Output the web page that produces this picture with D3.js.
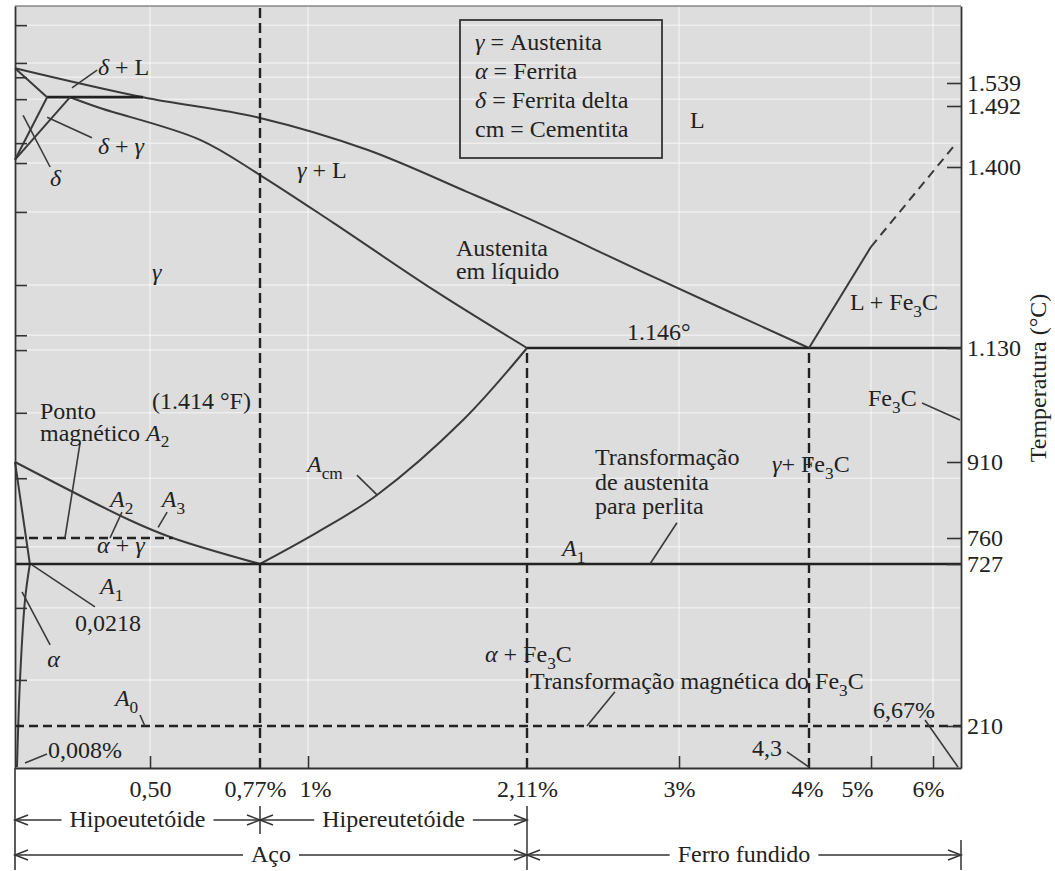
<!DOCTYPE html>
<html><head><meta charset="utf-8">
<script src="https://cdn.jsdelivr.net/npm/d3@7"></script>
<style>
body{margin:0;background:#fff}
svg{display:block}
</style></head><body>
<svg id="chart" width="1055" height="871"></svg>
<script>
// ---------------- DATA (carbon %, temperature °C) ----------------
const liquidus        = [[0,1570],[0.474,1510],[0.77,1474],[1.30,1426],[1.806,1363],[2.11,1324],[2.85,1236],[4.3,1130]];
const solidusGamma    = [[0.204,1510],[0.315,1489],[0.623,1441],[0.77,1388],[1.127,1317],[1.634,1217],[2.11,1130]];
const deltaSolidus    = [[0,1570],[0.119,1510]];
const peritectic      = [[0.119,1510],[0.474,1510]];
const deltaSolvus     = [[0,1411],[0.119,1510]];
const gammaDelta      = [[0,1411],[0.204,1510]];
const eutectic        = [[2.11,1130],[6.67,1130]];
const fe3cLiquidus    = [[4.3,1130],[5.0,1281]];
const fe3cLiquidusExt = [[5.0,1281],[6.48,1430]];
const acmLine         = [[0.77,727],[1.051,772],[1.35,845],[1.786,991],[2.11,1130]];
const a3Line          = [[0,910],[0.426,795],[0.556,760],[0.77,727]];
const alphaGamma      = [[0,910],[0.055,727]];
const alphaSolvus     = [[0.055,727],[0.037,612],[0.0185,357],[0.0074,78]];
const a2Line          = [[0,760],[0.556,760]];
const a1Line          = [[0,727],[6.67,727]];
const a0Line          = [[0,210],[6.67,210]];
const verticalCarbon  = [0.77, 2.11, 4.3];
const verticalTop     = [1700, 1130, 1130];

const leaders = [
  [[0.211,1529],[0.304,1566]],   // δ+L
  [[0.119,1475],[0.285,1444]],   // δ+γ
  [[0.030,1478],[0.130,1400]],   // δ
  [[0.241,947],[0.185,760]],     // ponto magnético
  [[0.396,811],[0.352,760]],     // A2
  [[0.542,811],[0.520,781]],     // A3
  [[1.248,884],[1.35,845]],      // Acm
  [[0.063,724],[0.296,590]],     // 0,0218
  [[0.026,638],[0.130,469]],     // α
  [[0.463,245],[0.481,210]],     // A0
  [[0.037,91],[0.1185,120]],     // 0,008%
  [[2.988,790],[2.83,727]],      // perlita
  [[2.625,319],[2.461,210]],     // magnética Fe3C
  [[5.823,1024],[6.646,991]],    // Fe3C
  [[5.871,229],[6.598,78]],      // 6,67%
  [[3.857,127],[4.3,78]]         // 4,3
];

const labelText = ["*δ* + L","*δ* + *γ*","*δ*","*γ*","*γ* + L","Austenita","em líquido","L","1.146°",
  "L + Fe_3C","Fe_3C","*γ*+ Fe_3C","Transformação","de austenita","para perlita","*A*_1",
  "*α* + Fe_3C","Transformação magnética do Fe_3C","6,67%","4,3","0,008%","*A*_0","*α*","0,0218",
  "*A*_1","*α* + *γ*","*A*_2","*A*_3","Ponto","magnético *A*_2","(1.414 °F)","*A*_{cm}"];
const labelCarbon = [0.307,0.307,0.130,0.505,0.947,1.75,1.75,3.087,2.695,
  4.763,4.966,3.738,2.508,2.508,2.508,2.315,
  1.897,2.128,5.032,3.579,0.122,0.370,0.119,0.222,
  0.315,0.304,0.352,0.529,0.0926,0.0926,0.505,0.995];
const labelTemp = [1556,1420,1372,1231,1384,1267,1233,1459,1142,
  1187,1018,890,904,855,808,737,
  414,328,236,114,107,274,398,513,
  631,741,821,821,993,951,1012,890];

const legendItems = ["*γ* = Austenita","*α* = Ferrita","*δ* = Ferrita delta","cm = Cementita"];

const xTickValues = [0.5,0.77,1,2.11,3,4,5,6];
const xTickLabels = ["0,50","0,77%","1%","2,11%","3%","4%","5%","6%"];
const xTickMarks  = [0.5,1,3,5,6];
const rightTicks  = [210,727,760,910,1130,1400,1492,1539];
const leftTicks   = [1660,1581,1551,1506,1436,1406,1333,1224,1149,1126,1005,878,749,587,357];

const spans = [
  {from:0, to:0.77, row:0, text:"Hipoeutetóide"},
  {from:0.77, to:2.11, row:0, text:"Hipereutetóide"},
  {from:0, to:2.11, row:1, text:"Aço"},
  {from:2.11, to:6.67, row:1, text:"Ferro fundido"}
];

// ---------------- SCALES ----------------
const x = d3.scaleLinear()
  .domain([0,0.5,0.77,1,2.11,3,4,4.3,5,6,6.67])
  .range([15,150,260,308,527,679,805,809,871,933,961]);
const y = d3.scaleLinear()
  .domain([75,210,727,760,910,1130,1400,1492,1539,1700])
  .range([768,726,564,538,462,348,167,106,83,6]);

const FONT = "'Liberation Serif', 'Times New Roman', Times, serif";
const FS = 24;
const ink = "#3a3a3a";
const svg = d3.select("#chart");

// background
svg.append("rect").attr("x",x(0)).attr("y",y(1700)).attr("width",x(6.67)-x(0)).attr("height",y(75)-y(1700)).attr("fill","#dddddd");

// faint white grid (scan)
svg.append("g").selectAll("line").data(leftTicks).join("line")
  .attr("x1",x(0)).attr("x2",x(6.67)).attr("y1",d=>y(d)).attr("y2",d=>y(d))
  .attr("stroke","#fff").attr("stroke-opacity",0.5).attr("stroke-width",1.5);
svg.append("g").selectAll("line").data(xTickMarks).join("line")
  .attr("x1",d=>x(d)).attr("x2",d=>x(d)).attr("y1",y(1700)).attr("y2",y(75))
  .attr("stroke","#fff").attr("stroke-opacity",0.5).attr("stroke-width",1.5);

const line = d3.line().x(d=>x(d[0])).y(d=>y(d[1]));
const curve = d3.line().x(d=>x(d[0])).y(d=>y(d[1])).curve(d3.curveCatmullRom.alpha(0.5));

function drawPath(data, gen, opts={}){
  svg.append("path").datum(data).attr("d",gen).attr("fill","none")
    .attr("stroke",opts.color||ink).attr("stroke-width",opts.w||2)
    .attr("stroke-dasharray",opts.dash||null);
}
// phase boundaries
drawPath(liquidus, curve);
drawPath(solidusGamma, curve);
drawPath(deltaSolidus, line);
drawPath(peritectic, line, {w:2.8, color:"#222"});
drawPath(deltaSolvus, line);
drawPath(gammaDelta, line);
drawPath(eutectic, line, {w:2.4, color:"#222"});
drawPath(fe3cLiquidus, line);
drawPath(fe3cLiquidusExt, line, {dash:"9,6"});
drawPath(acmLine, curve);
drawPath(a3Line, curve);
drawPath(alphaGamma, curve);
drawPath(alphaSolvus, curve);
drawPath(a2Line, line, {w:2.4, dash:"9,5", color:"#222"});
drawPath(a1Line, line, {w:2.4, color:"#222"});
drawPath(a0Line, line, {w:2.4, dash:"9,5", color:"#222"});
verticalCarbon.forEach((c,i)=>drawPath([[c,75],[c,verticalTop[i]]], line, {w:2.4, dash:"10,5", color:"#222"}));
leaders.forEach(l=>drawPath(l, line, {w:1.6}));

// axes
const ptFormat = d3.formatLocale({decimal:",",thousands:".",grouping:[3],currency:["",""]}).format(",");
const xTickDx = [0,-5,7,0,0,2,-14,-5];
const gR = svg.append("g").attr("transform",`translate(${x(6.67)},0)`)
  .call(d3.axisRight(y).tickValues(rightTicks).tickFormat(ptFormat).tickSizeInner(-14).tickSizeOuter(0).tickPadding(6));
const gL = svg.append("g").attr("transform",`translate(${x(0)},0)`)
  .call(d3.axisLeft(y).tickValues(leftTicks).tickFormat("").tickSizeInner(-12).tickSizeOuter(0));
const gB = svg.append("g").attr("transform",`translate(0,${y(75)})`)
  .call(d3.axisBottom(x).tickValues(xTickValues).tickFormat((d,i)=>xTickLabels[i]).tickSizeInner(-12).tickSizeOuter(0).tickPadding(12));
[gR,gL,gB].forEach(g=>{
  g.attr("font-family",null).attr("font-size",null);
  g.selectAll("text").attr("font-size",FS).attr("fill","#222");
  g.select(".domain").attr("stroke","#333").attr("stroke-width",1.8);
  g.selectAll(".tick line").attr("stroke","#333").attr("stroke-width",1.6);
});
gB.selectAll(".tick text").attr("dx",(d,i)=>xTickDx[i]);
gB.selectAll(".tick").filter(d=>!xTickMarks.includes(d)).select("line").remove();
// top border
svg.append("line").attr("x1",x(0)).attr("x2",x(6.67)).attr("y1",y(1700)).attr("y2",y(1700)).attr("stroke","#555").attr("stroke-width",1.2);
// left border extension below the plot
svg.append("line").attr("x1",x(0)).attr("x2",x(0)).attr("y1",y(75)).attr("y2",870).attr("stroke","#333").attr("stroke-width",1.6);

// rich text
function parse(s){
  const out=[]; let buf="", it=false;
  for(let i=0;i<s.length;i++){
    const c=s[i];
    if(c==="*"){ if(buf) out.push({text:buf,italic:it}); buf=""; it=!it; }
    else if(c==="_"){
      if(buf) out.push({text:buf,italic:it}); buf="";
      let sub;
      if(s[i+1]==="{"){ const j=s.indexOf("}",i); sub=s.slice(i+2,j); i=j; }
      else { sub=s[i+1]; i++; }
      out.push({text:sub,italic:false,sub:true});
    } else buf+=c;
  }
  if(buf) out.push({text:buf,italic:it});
  return out;
}
function rich(g, str, px, py, size, anchor){
  const t = g.append("text").attr("x",px).attr("y",py).attr("font-size",size).attr("text-anchor",anchor||"start");
  let shift=0;
  parse(str).forEach(s=>{
    const ts=t.append("tspan").text(s.text);
    if(s.italic) ts.attr("font-style","italic");
    if(s.sub){ ts.attr("font-size",size*0.72); const d=size*0.28; ts.attr("dy",d-shift); shift=d; }
    else if(shift){ ts.attr("dy",-shift); shift=0; }
  });
  return t;
}
const gT = svg.append("g");
labelText.forEach((s,i)=>rich(gT, s, x(labelCarbon[i]), y(labelTemp[i]), FS));

// legend
const lg = svg.append("g").attr("transform","translate(460,20)");
lg.append("rect").attr("width",202).attr("height",138).attr("fill","none").attr("stroke","#333").attr("stroke-width",1.8);
legendItems.forEach((s,i)=>rich(lg, s, 15, 30+i*29, FS));

// axis title
svg.append("text").attr("transform","translate(1046,378) rotate(-90)").attr("text-anchor","middle")
  .attr("font-size",FS).text("Temperatura (°C)");

// bottom spans
const rowY=[820,855];
const gS = svg.append("g");
function arrowHead(x0, yy, dir){
  gS.append("path").attr("d",`M${x0+dir*13},${yy-5}L${x0},${yy}L${x0+dir*13},${yy+5}`)
    .attr("fill","none").attr("stroke","#333").attr("stroke-width",1.5);
}
spans.forEach(s=>{
  const x0=x(s.from), x1=x(s.to), yy=rowY[s.row], mid=(x0+x1)/2;
  const t=gS.append("text").attr("x",mid).attr("y",yy+7).attr("text-anchor","middle").attr("font-size",FS)
    .style("font-family",FONT).text(s.text);
  const w=t.node().getComputedTextLength();
  gS.append("line").attr("x1",x0).attr("x2",mid-w/2-8).attr("y1",yy).attr("y2",yy).attr("stroke","#333").attr("stroke-width",1.5);
  gS.append("line").attr("x1",mid+w/2+8).attr("x2",x1).attr("y1",yy).attr("y2",yy).attr("stroke","#333").attr("stroke-width",1.5);
  arrowHead(x0,yy,1); arrowHead(x1,yy,-1);
});
[[0.77,806,834],[2.11,806,870],[6.67,840,870]].forEach(v=>{
  gS.append("line").attr("x1",x(v[0])).attr("x2",x(v[0])).attr("y1",v[1]).attr("y2",v[2]).attr("stroke","#333").attr("stroke-width",1.5);
});

// force the serif face on every text
svg.selectAll("text, tspan").style("font-family",FONT).style("white-space","pre").attr("fill","#222");
</script>
</body></html>
